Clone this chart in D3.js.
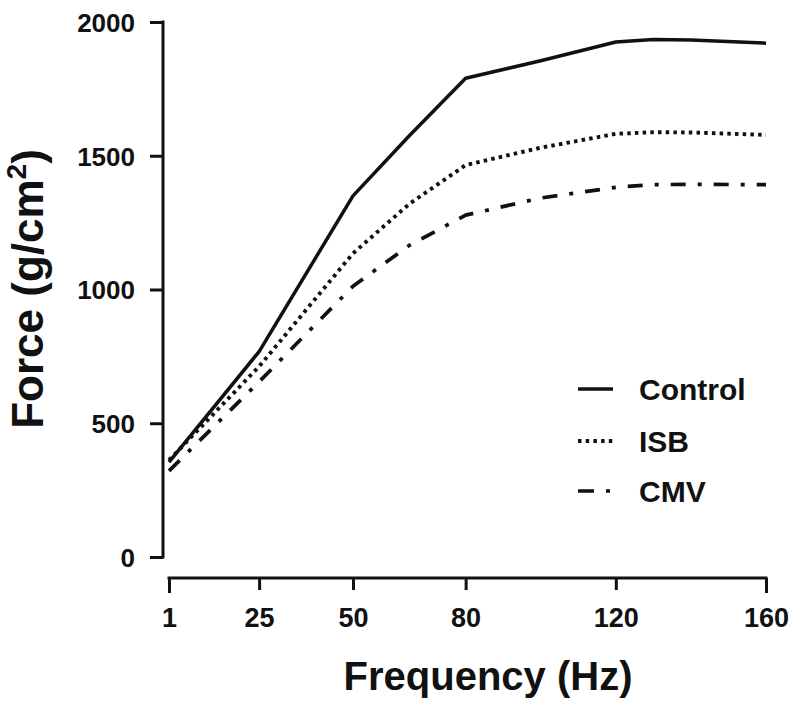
<!DOCTYPE html>
<html>
<head>
<meta charset="utf-8">
<script src="https://cdn.jsdelivr.net/npm/d3@7"></script>
<style>
  html, body { margin: 0; padding: 0; background: #fff; }
  svg { display: block; }
  text { font-family: "Liberation Sans", Arial, sans-serif; font-weight: bold; fill: #111; }
</style>
</head>
<body>
<svg id="chart" width="800" height="715"></svg>
<script>
// ---- data ----
const frequencies = [1, 25, 50, 65, 80, 100, 120, 130, 140, 160];
const controlForce = [355, 768, 1350, 1575, 1790, 1855, 1925, 1935, 1933, 1921];
const isbForce     = [362, 712, 1135, 1320, 1465, 1530, 1582, 1588, 1587, 1578];
const cmvForce     = [322, 655, 1012, 1165, 1278, 1342, 1382, 1392, 1393, 1392];
const seriesNames  = ["Control", "ISB", "CMV"];
const xTickValues  = [1, 25, 50, 80, 120, 160];
const yTickValues  = [0, 500, 1000, 1500, 2000];

const svg = d3.select("#chart");
const x = d3.scaleLinear().domain([1, 160]).range([169, 766]);
const y = d3.scaleLinear().domain([0, 2000]).range([557, 22]);

const styles = {
  Control: { dash: null, width: 3.5 },
  ISB: { dash: "3.5,4.2", width: 3.9 },
  CMV: { dash: "15,12,4,12", width: 3.7 }
};
const seriesValues = { Control: controlForce, ISB: isbForce, CMV: cmvForce };
const font = "Liberation Sans, Arial, sans-serif";

// ---- y axis ----
const yAxisX = 163;
const yAxis = svg.append("g").attr("transform", `translate(${yAxisX},0)`)
  .call(d3.axisLeft(y).tickValues(yTickValues).tickFormat(d3.format("d"))
    .tickSize(13).tickSizeOuter(0).tickPadding(15));
yAxis.select(".domain").attr("stroke", "#111").attr("stroke-width", 3)
  .attr("d", `M0,${y(2000) - 1.5}V${y(0) + 1.5}`);
yAxis.selectAll(".tick line").attr("stroke", "#111").attr("stroke-width", 3);
yAxis.selectAll(".tick text").attr("font-size", 26).attr("font-weight", "bold")
  .attr("font-family", font).attr("fill", "#111").attr("dy", "0.36em");

// ---- x axis ----
const xAxisY = 578;
const xAxis = svg.append("g").attr("transform", `translate(0,${xAxisY})`)
  .call(d3.axisBottom(x).tickValues(xTickValues).tickFormat(d3.format("d"))
    .tickSize(13).tickSizeOuter(0).tickPadding(17));
xAxis.select(".domain").attr("stroke", "#111").attr("stroke-width", 3.2)
  .attr("d", `M${x(1) - 1.5},0H${x(160) + 1.5}`);
xAxis.selectAll(".tick line").attr("stroke", "#111").attr("stroke-width", 3)
  .attr("y2", d => (d === 1 || d === 160) ? 15 : 12);
xAxis.selectAll(".tick text").attr("font-size", 27).attr("font-weight", "bold")
  .attr("font-family", font).attr("fill", "#111");

// ---- lines ----
const line = d3.line().x(d => x(d[0])).y(d => y(d[1]));
seriesNames.forEach(name => {
  const pts = frequencies.map((f, i) => [f, seriesValues[name][i]]);
  svg.append("path").datum(pts)
    .attr("d", line)
    .attr("fill", "none")
    .attr("stroke", "#111")
    .attr("stroke-width", styles[name].width)
    .attr("stroke-linejoin", "round")
    .attr("stroke-dasharray", styles[name].dash);
});

// ---- legend ----
const legendY = [389, 441, 491];
const lg = svg.append("g");
seriesNames.forEach((name, i) => {
  lg.append("line")
    .attr("x1", 578).attr("x2", name === "CMV" ? 611 : 613)
    .attr("y1", legendY[i]).attr("y2", legendY[i])
    .attr("stroke", "#111")
    .attr("stroke-width", styles[name].width)
    .attr("stroke-dasharray", name === "CMV" ? "16,12,4,20" : styles[name].dash);
  lg.append("text").attr("x", 639).attr("y", legendY[i] + 10.5)
    .attr("font-size", 30).text(name);
});

// ---- axis titles ----
svg.append("text").attr("x", 488).attr("y", 690).attr("text-anchor", "middle")
  .attr("font-size", 40).text("Frequency (Hz)");

const yt = svg.append("text").attr("text-anchor", "middle")
  .attr("transform", "translate(43,289) rotate(-90)")
  .attr("font-size", 44);
yt.append("tspan").text("Force (g/cm");
yt.append("tspan").attr("font-size", 28).attr("dy", -17).text("2");
yt.append("tspan").attr("dy", 17).text(")");
</script>
</body>
</html>
